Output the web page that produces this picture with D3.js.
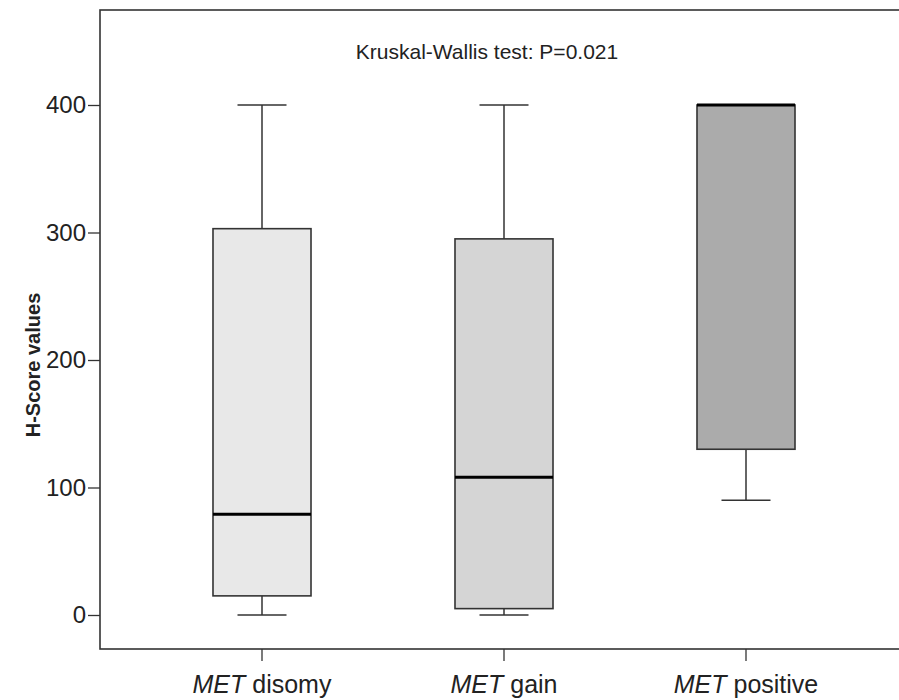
<!doctype html>
<html lang="en">
<head>
<meta charset="utf-8">
<script src="https://cdn.jsdelivr.net/npm/d3@7"></script>
<style>
  body { margin: 0; background: #fff; }
  text { font-family: "Liberation Sans", Arial, sans-serif; fill: #222; }
</style>
</head>
<body>
<div id="chart"></div>
<script>
// data
var groups  = ["disomy", "gain", "positive"];
var mins    = [0, 0, 90];
var q1s     = [15, 5, 130];
var medians = [79, 108, 400];
var q3s     = [303, 295, 400];
var maxs    = [400, 400, 400];
var fills   = ["#e8e8e8", "#d5d5d5", "#ababab"];
var yTicks  = [0, 100, 200, 300, 400];

var W = 899, H = 700;
var svg = d3.select("#chart").append("svg")
    .attr("width", W).attr("height", H);

// y: 0 -> 615, 400 -> 105
var y = d3.scaleLinear().domain([0, 400]).range([615, 105]);
var frame = {left: 100, top: 10, bottom: 649, right: 920};

var x = d3.scaleBand()
    .domain(groups)
    .range([frame.left + 41, frame.left + 767])
    .paddingInner(0.595)
    .paddingOuter(0.2975);

var stroke = "#333";

// frame (right side runs off the picture)
svg.append("rect")
    .attr("x", frame.left).attr("y", frame.top)
    .attr("width", frame.right - frame.left)
    .attr("height", frame.bottom - frame.top)
    .attr("fill", "none").attr("stroke", stroke).attr("stroke-width", 1.6);

// y axis ticks
var yAxis = d3.axisLeft(y).tickValues(yTicks).tickSize(12).tickPadding(2);
var gy = svg.append("g").attr("transform", "translate(" + frame.left + ",0)").call(yAxis);
gy.select(".domain").remove();
gy.selectAll("line").attr("stroke", stroke).attr("stroke-width", 1.3);
gy.selectAll("text").attr("font-size", 24).attr("fill", "#222");

// x axis ticks
var xAxis = d3.axisBottom(x).tickSize(12).tickFormat("");
var gx = svg.append("g").attr("transform", "translate(0," + frame.bottom + ")").call(xAxis);
gx.select(".domain").remove();
gx.selectAll("line").attr("stroke", stroke).attr("stroke-width", 1.3);

// category labels, MET in italics
var lab = svg.append("g").selectAll("text").data(groups).enter().append("text")
    .attr("x", function(d) { return x(d) + x.bandwidth() / 2; })
    .attr("y", 693)
    .attr("text-anchor", "middle")
    .attr("font-size", 25);
lab.append("tspan").attr("font-style", "italic").text("MET");
lab.append("tspan").text(function(d) { return " " + d; });

// y axis title
svg.append("text")
    .attr("transform", "translate(40,365) rotate(-90)")
    .attr("text-anchor", "middle")
    .attr("font-size", 20)
    .attr("font-weight", "bold")
    .text("H-Score values");

// test annotation
svg.append("text")
    .attr("x", 487).attr("y", 59)
    .attr("text-anchor", "middle")
    .attr("font-size", 21)
    .text("Kruskal-Wallis test: P=0.021");

// boxes
var capW = 49;
var boxes = svg.append("g").selectAll("g").data(groups).enter().append("g");

function cx(i) { return x(groups[i]) + x.bandwidth() / 2; }

boxes.each(function(d, i) {
  var g = d3.select(this);
  var c = cx(i), bw = x.bandwidth();
  // whiskers
  if (maxs[i] > q3s[i]) {
    g.append("line").attr("x1", c).attr("x2", c).attr("y1", y(q3s[i])).attr("y2", y(maxs[i]))
      .attr("stroke", stroke).attr("stroke-width", 1.5);
    g.append("line").attr("x1", c - capW / 2).attr("x2", c + capW / 2)
      .attr("y1", y(maxs[i])).attr("y2", y(maxs[i]))
      .attr("stroke", stroke).attr("stroke-width", 1.5);
  }
  if (mins[i] < q1s[i]) {
    g.append("line").attr("x1", c).attr("x2", c).attr("y1", y(q1s[i])).attr("y2", y(mins[i]))
      .attr("stroke", stroke).attr("stroke-width", 1.5);
    g.append("line").attr("x1", c - capW / 2).attr("x2", c + capW / 2)
      .attr("y1", y(mins[i])).attr("y2", y(mins[i]))
      .attr("stroke", stroke).attr("stroke-width", 1.5);
  }
  // box
  g.append("rect")
    .attr("x", x(d)).attr("width", bw)
    .attr("y", y(q3s[i])).attr("height", y(q1s[i]) - y(q3s[i]))
    .attr("fill", fills[i]).attr("stroke", stroke).attr("stroke-width", 1.6);
  // median
  g.append("line").attr("x1", x(d)).attr("x2", x(d) + bw)
    .attr("y1", y(medians[i])).attr("y2", y(medians[i]))
    .attr("stroke", "#000").attr("stroke-width", 3);
});
</script>
</body>
</html>
